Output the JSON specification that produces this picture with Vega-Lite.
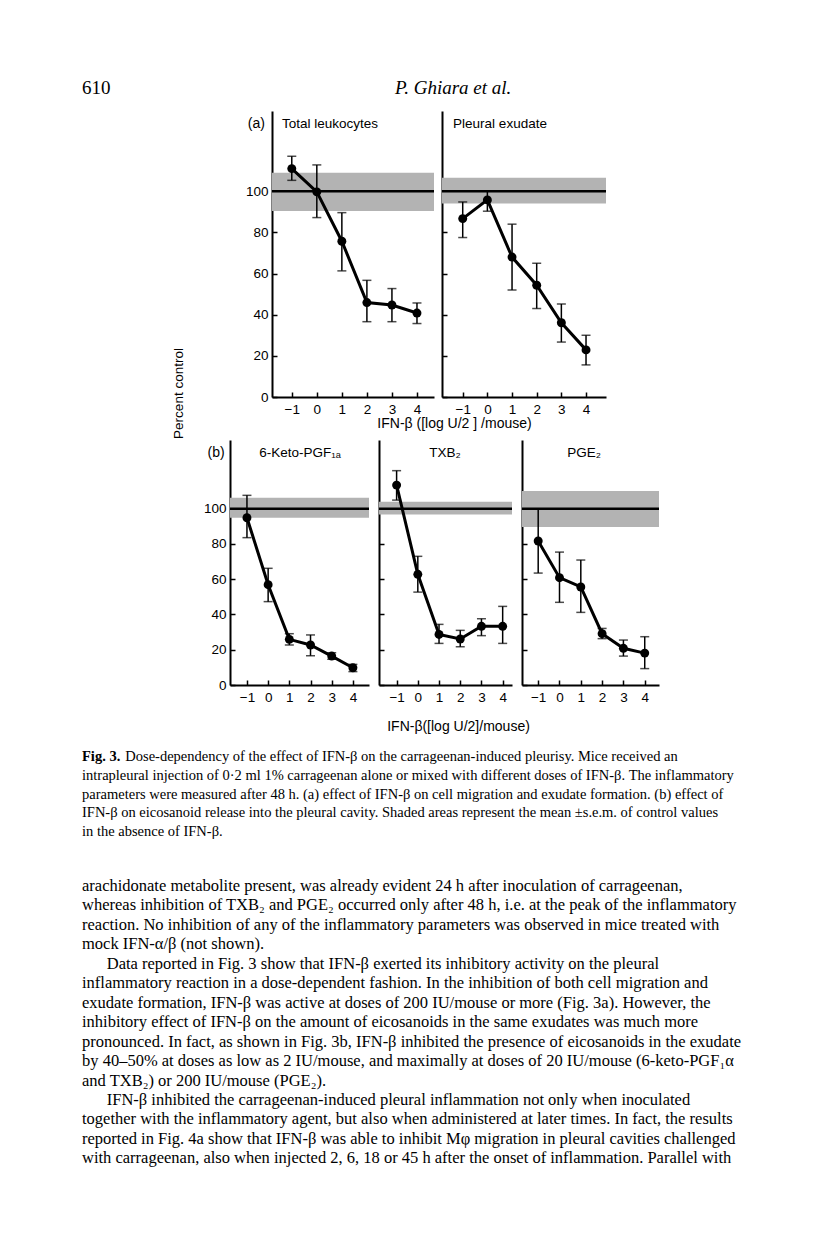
{
  "$schema": "https://vega.github.io/schema/vega-lite/v6.json",
  "padding": {"left": 82, "top": 64, "right": 0, "bottom": 0},
  "background": "white",
  "config": {
    "view": {"stroke": null},
    "font": "Liberation Sans",
    "axis": {
      "domainColor": "black", "domainWidth": 2, "tickColor": "black", "tickWidth": 1.5, "tickSize": -5,
      "labelFont": "Liberation Sans", "labelFontSize": 13.5, "labelColor": "black", "grid": false,
      "titleFont": "Liberation Sans", "titleFontSize": 14, "titleFontWeight": "normal", "titleColor": "black",
      "labelFlush": false, "labelOverlap": false, "labelSeparation": 0
    }
  },
  "datasets": {
    "points": [
      {"panel": "Total leukocytes", "dose": -1, "mean": 111, "lo": 105.3, "hi": 117},
      {"panel": "Total leukocytes", "dose": 0, "mean": 99.7, "lo": 87.2, "hi": 112.8},
      {"panel": "Total leukocytes", "dose": 1, "mean": 75.7, "lo": 61.3, "hi": 89.6},
      {"panel": "Total leukocytes", "dose": 2, "mean": 45.9, "lo": 36.6, "hi": 56.7},
      {"panel": "Total leukocytes", "dose": 3, "mean": 44.7, "lo": 36.6, "hi": 52.7},
      {"panel": "Total leukocytes", "dose": 4, "mean": 40.8, "lo": 35.7, "hi": 45.7},
      {"panel": "Pleural exudate", "dose": -1, "mean": 86.7, "lo": 77.5, "hi": 94.8},
      {"panel": "Pleural exudate", "dose": 0, "mean": 95.8, "lo": 90.3, "hi": 100.2},
      {"panel": "Pleural exudate", "dose": 1, "mean": 68, "lo": 52, "hi": 84},
      {"panel": "Pleural exudate", "dose": 2, "mean": 54.3, "lo": 43, "hi": 65},
      {"panel": "Pleural exudate", "dose": 3, "mean": 36.1, "lo": 26.7, "hi": 45.2},
      {"panel": "Pleural exudate", "dose": 4, "mean": 22.9, "lo": 15.6, "hi": 30},
      {"panel": "6-Keto-PGF1a", "dose": -1, "mean": 94.9, "lo": 83.6, "hi": 107.6},
      {"panel": "6-Keto-PGF1a", "dose": 0, "mean": 56.9, "lo": 47.3, "hi": 66.2},
      {"panel": "6-Keto-PGF1a", "dose": 1, "mean": 25.9, "lo": 22.7, "hi": 29.1},
      {"panel": "6-Keto-PGF1a", "dose": 2, "mean": 22.7, "lo": 16.6, "hi": 28.4},
      {"panel": "6-Keto-PGF1a", "dose": 3, "mean": 16.4, "lo": 14.6, "hi": 18.3},
      {"panel": "6-Keto-PGF1a", "dose": 4, "mean": 9.8, "lo": 7.6, "hi": 11.7},
      {"panel": "TXB2", "dose": -1, "mean": 113.4, "lo": 104.9, "hi": 121.6},
      {"panel": "TXB2", "dose": 0, "mean": 62.8, "lo": 52.7, "hi": 73},
      {"panel": "TXB2", "dose": 1, "mean": 28.7, "lo": 23.6, "hi": 34.4},
      {"panel": "TXB2", "dose": 2, "mean": 26.1, "lo": 21.7, "hi": 31},
      {"panel": "TXB2", "dose": 3, "mean": 33.3, "lo": 28, "hi": 37.6},
      {"panel": "TXB2", "dose": 4, "mean": 33.3, "lo": 23.6, "hi": 44.6},
      {"panel": "PGE2", "dose": -1, "mean": 81.7, "lo": 63.5, "hi": 100},
      {"panel": "PGE2", "dose": 0, "mean": 60.9, "lo": 46.9, "hi": 75.4},
      {"panel": "PGE2", "dose": 1, "mean": 55.6, "lo": 41.2, "hi": 70.9},
      {"panel": "PGE2", "dose": 2, "mean": 29.1, "lo": 26.3, "hi": 32.1},
      {"panel": "PGE2", "dose": 3, "mean": 20.8, "lo": 16.4, "hi": 25.5},
      {"panel": "PGE2", "dose": 4, "mean": 18.1, "lo": 9.3, "hi": 27.4}
    ],
    "bands": [
      {"panel": "Total leukocytes", "lo": 90.4, "hi": 109, "mean": 100},
      {"panel": "Pleural exudate", "lo": 94, "hi": 106.5, "mean": 100},
      {"panel": "6-Keto-PGF1a", "lo": 94.9, "hi": 106.2, "mean": 100},
      {"panel": "TXB2", "lo": 96.8, "hi": 104, "mean": 100},
      {"panel": "PGE2", "lo": 89.6, "hi": 110, "mean": 100}
    ],
    "caption": [
      {"line": 0, "text": "Dose-dependency of the effect of IFN-β on the carrageenan-induced pleurisy. Mice received an"},
      {"line": 1, "text": "intrapleural injection of 0·2 ml 1% carrageenan alone or mixed with different doses of IFN-β. The inflammatory"},
      {"line": 2, "text": "parameters were measured after 48 h. (a) effect of IFN-β on cell migration and exudate formation. (b) effect of"},
      {"line": 3, "text": "IFN-β on eicosanoid release into the pleural cavity. Shaded areas represent the mean ±s.e.m. of control values"},
      {"line": 4, "text": "in the absence of IFN-β."}
    ],
    "body": [
      {"line": 0, "text": "arachidonate metabolite present, was already evident 24 h after inoculation of carrageenan,"},
      {"line": 1, "text": "whereas inhibition of TXB₂ and PGE₂ occurred only after 48 h, i.e. at the peak of the inflammatory"},
      {"line": 2, "text": "reaction. No inhibition of any of the inflammatory parameters was observed in mice treated with"},
      {"line": 3, "text": "mock IFN-α/β (not shown)."},
      {"line": 4, "text": "\u200b\u2003\u2002Data reported in Fig. 3 show that IFN-β exerted its inhibitory activity on the pleural"},
      {"line": 5, "text": "inflammatory reaction in a dose-dependent fashion. In the inhibition of both cell migration and"},
      {"line": 6, "text": "exudate formation, IFN-β was active at doses of 200 IU/mouse or more (Fig. 3a). However, the"},
      {"line": 7, "text": "inhibitory effect of IFN-β on the amount of eicosanoids in the same exudates was much more"},
      {"line": 8, "text": "pronounced. In fact, as shown in Fig. 3b, IFN-β inhibited the presence of eicosanoids in the exudate"},
      {"line": 9, "text": "by 40–50% at doses as low as 2 IU/mouse, and maximally at doses of 20 IU/mouse (6-keto-PGF₁α"},
      {"line": 10, "text": "and TXB₂) or 200 IU/mouse (PGE₂)."},
      {"line": 11, "text": "\u200b\u2003\u2002IFN-β inhibited the carrageenan-induced pleural inflammation not only when inoculated"},
      {"line": 12, "text": "together with the inflammatory agent, but also when administered at later times. In fact, the results"},
      {"line": 13, "text": "reported in Fig. 4a show that IFN-β was able to inhibit Mφ migration in pleural cavities challenged"},
      {"line": 14, "text": "with carrageenan, also when injected 2, 6, 18 or 45 h after the onset of inflammation. Parallel with"}
    ]
  },
  "vconcat": [
    {
      "width": 666, "height": 47,
      "layer": [
        {"data": {"values": [{"t": "610"}]},
         "mark": {"type": "text", "align": "left", "baseline": "middle", "font": "Liberation Serif", "fontSize": 19, "color": "black"},
         "encoding": {"x": {"datum": 0, "type": "quantitative", "scale": {"domain": [0, 1], "nice": false}, "axis": null}, "text": {"field": "t"}}},
        {"data": {"values": [{"t": "P. Ghiara et al."}]},
         "mark": {"type": "text", "align": "left", "baseline": "middle", "font": "Liberation Serif", "fontSize": 19, "fontStyle": "italic", "color": "black"},
         "encoding": {"x": {"datum": 0.47, "type": "quantitative", "scale": {"domain": [0, 1], "nice": false}, "axis": null}, "text": {"field": "t"}}}
      ]
    },
    {
      "hconcat": [
        {"width": 182, "height": 329, "data": {"values": [{"t": ""}]}, "mark": {"type": "text"}, "encoding": {"text": {"field": "t"}}},
        {
          "width": 162, "height": 286,
          "layer": [
            {"data": {"name": "bands"}, "transform": [{"filter": "datum.panel === 'Total leukocytes'"}],
             "mark": {"type": "rect", "color": "#b3b3b3"},
             "encoding": {"y": {"field": "lo", "type": "quantitative", "scale": {"domain": [0, 139], "nice": false, "zero": false},
                                "axis": {"values": [0, 20, 40, 60, 80, 100], "labelPadding": 9, "labelOverlap": false, "title": "Percent control", "titleX": -94, "titleY": 282, "titleAngle": 270, "titleAlign": "center", "titleBaseline": "middle", "titleFontSize": 13.5}},
                          "y2": {"field": "hi"}}},
            {"data": {"name": "bands"}, "transform": [{"filter": "datum.panel === 'Total leukocytes'"}],
             "mark": {"type": "rule", "color": "black", "strokeWidth": 2.5},
             "encoding": {"y": {"field": "mean", "type": "quantitative", "scale": {"domain": [0, 139], "nice": false, "zero": false},
                                "axis": {"values": [0, 20, 40, 60, 80, 100], "labelPadding": 9, "labelOverlap": false, "title": "Percent control", "titleX": -94, "titleY": 282, "titleAngle": 270, "titleAlign": "center", "titleBaseline": "middle", "titleFontSize": 13.5}}}},
            {"data": {"name": "points"}, "transform": [{"filter": "datum.panel === 'Total leukocytes'"}],
             "layer": [
               {"mark": {"type": "rule", "color": "black", "strokeWidth": 1.5},
                "encoding": {"y": {"field": "lo", "type": "quantitative", "scale": {"domain": [0, 139], "nice": false, "zero": false},
                                   "axis": {"values": [0, 20, 40, 60, 80, 100], "labelPadding": 9, "labelOverlap": false, "title": "Percent control", "titleX": -94, "titleY": 282, "titleAngle": 270, "titleAlign": "center", "titleBaseline": "middle", "titleFontSize": 13.5}},
                             "y2": {"field": "hi"}}},
               {"mark": {"type": "tick", "orient": "horizontal", "color": "black", "size": 9, "thickness": 1.5},
                "encoding": {"y": {"field": "lo", "type": "quantitative", "scale": {"domain": [0, 139], "nice": false, "zero": false},
                                   "axis": {"values": [0, 20, 40, 60, 80, 100], "labelPadding": 9, "labelOverlap": false, "title": "Percent control", "titleX": -94, "titleY": 282, "titleAngle": 270, "titleAlign": "center", "titleBaseline": "middle", "titleFontSize": 13.5}}}},
               {"mark": {"type": "tick", "orient": "horizontal", "color": "black", "size": 9, "thickness": 1.5},
                "encoding": {"y": {"field": "hi", "type": "quantitative", "scale": {"domain": [0, 139], "nice": false, "zero": false},
                                   "axis": {"values": [0, 20, 40, 60, 80, 100], "labelPadding": 9, "labelOverlap": false, "title": "Percent control", "titleX": -94, "titleY": 282, "titleAngle": 270, "titleAlign": "center", "titleBaseline": "middle", "titleFontSize": 13.5}}}},
               {"mark": {"type": "line", "color": "black", "strokeWidth": 3},
                "encoding": {"y": {"field": "mean", "type": "quantitative", "scale": {"domain": [0, 139], "nice": false, "zero": false},
                                   "axis": {"values": [0, 20, 40, 60, 80, 100], "labelPadding": 9, "labelOverlap": false, "title": "Percent control", "titleX": -94, "titleY": 282, "titleAngle": 270, "titleAlign": "center", "titleBaseline": "middle", "titleFontSize": 13.5}}}},
               {"mark": {"type": "point", "filled": true, "color": "black", "size": 80, "opacity": 1},
                "encoding": {"y": {"field": "mean", "type": "quantitative", "scale": {"domain": [0, 139], "nice": false, "zero": false},
                                   "axis": {"values": [0, 20, 40, 60, 80, 100], "labelPadding": 9, "labelOverlap": false, "title": "Percent control", "titleX": -94, "titleY": 282, "titleAngle": 270, "titleAlign": "center", "titleBaseline": "middle", "titleFontSize": 13.5}}}}
             ],
             "encoding": {"x": {"field": "dose", "type": "quantitative", "scale": {"domain": [-1.79, 4.68], "nice": false, "zero": false},
                                "axis": {"values": [-1, 0, 1, 2, 3, 4], "format": "d", "labelPadding": 10, "labelOverlap": false, "title": null}}}},
            {"data": {"values": [{"label": "(a)", "title": "Total leukocytes"}]},
             "layer": [
               {"mark": {"type": "text", "align": "right", "baseline": "middle", "font": "Liberation Sans", "fontSize": 14, "color": "black"},
                "encoding": {"x": {"datum": -2.07, "type": "quantitative", "scale": {"domain": [-1.79, 4.68], "nice": false, "zero": false},
                                   "axis": {"values": [-1, 0, 1, 2, 3, 4], "format": "d", "labelPadding": 10, "labelOverlap": false, "title": null}},
                             "text": {"field": "label"}}},
               {"mark": {"type": "text", "align": "left", "baseline": "middle", "font": "Liberation Sans", "fontSize": 13.5, "color": "black"},
                "encoding": {"x": {"datum": -1.39, "type": "quantitative", "scale": {"domain": [-1.79, 4.68], "nice": false, "zero": false},
                                   "axis": {"values": [-1, 0, 1, 2, 3, 4], "format": "d", "labelPadding": 10, "labelOverlap": false, "title": null}},
                             "text": {"field": "title"}}}
             ],
             "encoding": {"y": {"datum": 132.5, "type": "quantitative", "scale": {"domain": [0, 139], "nice": false, "zero": false},
                                "axis": {"values": [0, 20, 40, 60, 80, 100], "labelPadding": 9, "labelOverlap": false, "title": "Percent control", "titleX": -94, "titleY": 282, "titleAngle": 270, "titleAlign": "center", "titleBaseline": "middle", "titleFontSize": 13.5}}}}
          ]
        },
        {
          "width": 164, "height": 286,
          "layer": [
            {"data": {"name": "bands"}, "transform": [{"filter": "datum.panel === 'Pleural exudate'"}],
             "mark": {"type": "rect", "color": "#b3b3b3"},
             "encoding": {"y": {"field": "lo", "type": "quantitative", "scale": {"domain": [0, 139], "nice": false, "zero": false}, "axis": {"values": [0, 20, 40, 60, 80, 100], "labels": false, "title": null}}, "y2": {"field": "hi"}}},
            {"data": {"name": "bands"}, "transform": [{"filter": "datum.panel === 'Pleural exudate'"}],
             "mark": {"type": "rule", "color": "black", "strokeWidth": 2.5},
             "encoding": {"y": {"field": "mean", "type": "quantitative", "scale": {"domain": [0, 139], "nice": false, "zero": false}, "axis": {"values": [0, 20, 40, 60, 80, 100], "labels": false, "title": null}}}},
            {"data": {"name": "points"}, "transform": [{"filter": "datum.panel === 'Pleural exudate'"}],
             "layer": [
               {"mark": {"type": "rule", "color": "black", "strokeWidth": 1.5},
                "encoding": {"y": {"field": "lo", "type": "quantitative", "scale": {"domain": [0, 139], "nice": false, "zero": false}, "axis": {"values": [0, 20, 40, 60, 80, 100], "labels": false, "title": null}}, "y2": {"field": "hi"}}},
               {"mark": {"type": "tick", "orient": "horizontal", "color": "black", "size": 9, "thickness": 1.5},
                "encoding": {"y": {"field": "lo", "type": "quantitative", "scale": {"domain": [0, 139], "nice": false, "zero": false}, "axis": {"values": [0, 20, 40, 60, 80, 100], "labels": false, "title": null}}}},
               {"mark": {"type": "tick", "orient": "horizontal", "color": "black", "size": 9, "thickness": 1.5},
                "encoding": {"y": {"field": "hi", "type": "quantitative", "scale": {"domain": [0, 139], "nice": false, "zero": false}, "axis": {"values": [0, 20, 40, 60, 80, 100], "labels": false, "title": null}}}},
               {"mark": {"type": "line", "color": "black", "strokeWidth": 3},
                "encoding": {"y": {"field": "mean", "type": "quantitative", "scale": {"domain": [0, 139], "nice": false, "zero": false}, "axis": {"values": [0, 20, 40, 60, 80, 100], "labels": false, "title": null}}}},
               {"mark": {"type": "point", "filled": true, "color": "black", "size": 80, "opacity": 1},
                "encoding": {"y": {"field": "mean", "type": "quantitative", "scale": {"domain": [0, 139], "nice": false, "zero": false}, "axis": {"values": [0, 20, 40, 60, 80, 100], "labels": false, "title": null}}}}
             ],
             "encoding": {"x": {"field": "dose", "type": "quantitative", "scale": {"domain": [-1.84, 4.81], "nice": false, "zero": false},
                                "axis": {"values": [-1, 0, 1, 2, 3, 4], "format": "d", "labelPadding": 10, "labelOverlap": false, "title": "IFN-β ([log U/2 ] /mouse)", "titleX": 12, "titleY": 26, "titleAlign": "center", "titleBaseline": "middle"}}}},
            {"data": {"values": [{"title": "Pleural exudate"}]},
             "mark": {"type": "text", "align": "left", "baseline": "middle", "font": "Liberation Sans", "fontSize": 13.5, "color": "black"},
             "encoding": {"x": {"datum": -1.39, "type": "quantitative", "scale": {"domain": [-1.84, 4.81], "nice": false, "zero": false},
                                "axis": {"values": [-1, 0, 1, 2, 3, 4], "format": "d", "labelPadding": 10, "labelOverlap": false, "title": "IFN-β ([log U/2 ] /mouse)", "titleX": 12, "titleY": 26, "titleAlign": "center", "titleBaseline": "middle"}},
                          "y": {"datum": 132.5, "type": "quantitative", "scale": {"domain": [0, 139], "nice": false, "zero": false}, "axis": {"values": [0, 20, 40, 60, 80, 100], "labels": false, "title": null}},
                          "text": {"field": "title"}}}
          ]
        }
      ],
      "spacing": 8,
      "bounds": "flush"
    },
    {
      "hconcat": [
        {"width": 138, "height": 303, "data": {"values": [{"t": ""}]}, "mark": {"type": "text"}, "encoding": {"text": {"field": "t"}}},
        {
          "width": 139, "height": 245,
          "layer": [
            {"data": {"name": "bands"}, "transform": [{"filter": "datum.panel === '6-Keto-PGF1a'"}],
             "mark": {"type": "rect", "color": "#b3b3b3"},
             "encoding": {"y": {"field": "lo", "type": "quantitative", "scale": {"domain": [0, 139], "nice": false, "zero": false}, "axis": {"values": [0, 20, 40, 60, 80, 100], "labelPadding": 9, "labelOverlap": false, "title": null}}, "y2": {"field": "hi"}}},
            {"data": {"name": "bands"}, "transform": [{"filter": "datum.panel === '6-Keto-PGF1a'"}],
             "mark": {"type": "rule", "color": "black", "strokeWidth": 2.5},
             "encoding": {"y": {"field": "mean", "type": "quantitative", "scale": {"domain": [0, 139], "nice": false, "zero": false}, "axis": {"values": [0, 20, 40, 60, 80, 100], "labelPadding": 9, "labelOverlap": false, "title": null}}}},
            {"data": {"name": "points"}, "transform": [{"filter": "datum.panel === '6-Keto-PGF1a'"}],
             "layer": [
               {"mark": {"type": "rule", "color": "black", "strokeWidth": 1.5},
                "encoding": {"y": {"field": "lo", "type": "quantitative", "scale": {"domain": [0, 139], "nice": false, "zero": false}, "axis": {"values": [0, 20, 40, 60, 80, 100], "labelPadding": 9, "labelOverlap": false, "title": null}}, "y2": {"field": "hi"}}},
               {"mark": {"type": "tick", "orient": "horizontal", "color": "black", "size": 9, "thickness": 1.5},
                "encoding": {"y": {"field": "lo", "type": "quantitative", "scale": {"domain": [0, 139], "nice": false, "zero": false}, "axis": {"values": [0, 20, 40, 60, 80, 100], "labelPadding": 9, "labelOverlap": false, "title": null}}}},
               {"mark": {"type": "tick", "orient": "horizontal", "color": "black", "size": 9, "thickness": 1.5},
                "encoding": {"y": {"field": "hi", "type": "quantitative", "scale": {"domain": [0, 139], "nice": false, "zero": false}, "axis": {"values": [0, 20, 40, 60, 80, 100], "labelPadding": 9, "labelOverlap": false, "title": null}}}},
               {"mark": {"type": "line", "color": "black", "strokeWidth": 3},
                "encoding": {"y": {"field": "mean", "type": "quantitative", "scale": {"domain": [0, 139], "nice": false, "zero": false}, "axis": {"values": [0, 20, 40, 60, 80, 100], "labelPadding": 9, "labelOverlap": false, "title": null}}}},
               {"mark": {"type": "point", "filled": true, "color": "black", "size": 80, "opacity": 1},
                "encoding": {"y": {"field": "mean", "type": "quantitative", "scale": {"domain": [0, 139], "nice": false, "zero": false}, "axis": {"values": [0, 20, 40, 60, 80, 100], "labelPadding": 9, "labelOverlap": false, "title": null}}}}
             ],
             "encoding": {"x": {"field": "dose", "type": "quantitative", "scale": {"domain": [-1.8, 4.76], "nice": false, "zero": false},
                                "axis": {"values": [-1, 0, 1, 2, 3, 4], "format": "d", "labelPadding": 10, "labelOverlap": false, "title": null}}}},
            {"data": {"values": [{"label": "(b)", "title": "6-Keto-PGF₁ₐ"}]},
             "layer": [
               {"mark": {"type": "text", "align": "right", "baseline": "middle", "font": "Liberation Sans", "fontSize": 14, "color": "black"},
                "encoding": {"x": {"datum": -2.05, "type": "quantitative", "scale": {"domain": [-1.8, 4.76], "nice": false, "zero": false},
                                   "axis": {"values": [-1, 0, 1, 2, 3, 4], "format": "d", "labelPadding": 10, "labelOverlap": false, "title": null}},
                             "text": {"field": "label"}}},
               {"mark": {"type": "text", "align": "center", "baseline": "middle", "font": "Liberation Sans", "fontSize": 13.5, "color": "black"},
                "encoding": {"x": {"datum": 1.5, "type": "quantitative", "scale": {"domain": [-1.8, 4.76], "nice": false, "zero": false},
                                   "axis": {"values": [-1, 0, 1, 2, 3, 4], "format": "d", "labelPadding": 10, "labelOverlap": false, "title": null}},
                             "text": {"field": "title"}}}
             ],
             "encoding": {"y": {"datum": 131.8, "type": "quantitative", "scale": {"domain": [0, 139], "nice": false, "zero": false}, "axis": {"values": [0, 20, 40, 60, 80, 100], "labelPadding": 9, "labelOverlap": false, "title": null}}}}
          ]
        },
        {
          "width": 133, "height": 245,
          "layer": [
            {"data": {"name": "bands"}, "transform": [{"filter": "datum.panel === 'TXB2'"}],
             "mark": {"type": "rect", "color": "#b3b3b3"},
             "encoding": {"y": {"field": "lo", "type": "quantitative", "scale": {"domain": [0, 139], "nice": false, "zero": false}, "axis": {"values": [0, 20, 40, 60, 80, 100], "labels": false, "title": null}}, "y2": {"field": "hi"}}},
            {"data": {"name": "bands"}, "transform": [{"filter": "datum.panel === 'TXB2'"}],
             "mark": {"type": "rule", "color": "black", "strokeWidth": 2.5},
             "encoding": {"y": {"field": "mean", "type": "quantitative", "scale": {"domain": [0, 139], "nice": false, "zero": false}, "axis": {"values": [0, 20, 40, 60, 80, 100], "labels": false, "title": null}}}},
            {"data": {"name": "points"}, "transform": [{"filter": "datum.panel === 'TXB2'"}],
             "layer": [
               {"mark": {"type": "rule", "color": "black", "strokeWidth": 1.5},
                "encoding": {"y": {"field": "lo", "type": "quantitative", "scale": {"domain": [0, 139], "nice": false, "zero": false}, "axis": {"values": [0, 20, 40, 60, 80, 100], "labels": false, "title": null}}, "y2": {"field": "hi"}}},
               {"mark": {"type": "tick", "orient": "horizontal", "color": "black", "size": 9, "thickness": 1.5},
                "encoding": {"y": {"field": "lo", "type": "quantitative", "scale": {"domain": [0, 139], "nice": false, "zero": false}, "axis": {"values": [0, 20, 40, 60, 80, 100], "labels": false, "title": null}}}},
               {"mark": {"type": "tick", "orient": "horizontal", "color": "black", "size": 9, "thickness": 1.5},
                "encoding": {"y": {"field": "hi", "type": "quantitative", "scale": {"domain": [0, 139], "nice": false, "zero": false}, "axis": {"values": [0, 20, 40, 60, 80, 100], "labels": false, "title": null}}}},
               {"mark": {"type": "line", "color": "black", "strokeWidth": 3},
                "encoding": {"y": {"field": "mean", "type": "quantitative", "scale": {"domain": [0, 139], "nice": false, "zero": false}, "axis": {"values": [0, 20, 40, 60, 80, 100], "labels": false, "title": null}}}},
               {"mark": {"type": "point", "filled": true, "color": "black", "size": 80, "opacity": 1},
                "encoding": {"y": {"field": "mean", "type": "quantitative", "scale": {"domain": [0, 139], "nice": false, "zero": false}, "axis": {"values": [0, 20, 40, 60, 80, 100], "labels": false, "title": null}}}}
             ],
             "encoding": {"x": {"field": "dose", "type": "quantitative", "scale": {"domain": [-1.83, 4.44], "nice": false, "zero": false},
                                "axis": {"values": [-1, 0, 1, 2, 3, 4], "format": "d", "labelPadding": 10, "labelOverlap": false, "title": "IFN-β([log U/2]/mouse)", "titleX": 79, "titleY": 41, "titleAlign": "center", "titleBaseline": "middle"}}}},
            {"data": {"values": [{"title": "TXB₂"}]},
             "mark": {"type": "text", "align": "center", "baseline": "middle", "font": "Liberation Sans", "fontSize": 13.5, "color": "black"},
             "encoding": {"x": {"datum": 1.28, "type": "quantitative", "scale": {"domain": [-1.83, 4.44], "nice": false, "zero": false},
                                "axis": {"values": [-1, 0, 1, 2, 3, 4], "format": "d", "labelPadding": 10, "labelOverlap": false, "title": "IFN-β([log U/2]/mouse)", "titleX": 79, "titleY": 41, "titleAlign": "center", "titleBaseline": "middle"}},
                          "y": {"datum": 131.8, "type": "quantitative", "scale": {"domain": [0, 139], "nice": false, "zero": false}, "axis": {"values": [0, 20, 40, 60, 80, 100], "labels": false, "title": null}},
                          "text": {"field": "title"}}}
          ]
        },
        {
          "width": 137, "height": 245,
          "layer": [
            {"data": {"name": "bands"}, "transform": [{"filter": "datum.panel === 'PGE2'"}],
             "mark": {"type": "rect", "color": "#b3b3b3"},
             "encoding": {"y": {"field": "lo", "type": "quantitative", "scale": {"domain": [0, 139], "nice": false, "zero": false}, "axis": {"values": [0, 20, 40, 60, 80, 100], "labels": false, "title": null}}, "y2": {"field": "hi"}}},
            {"data": {"name": "bands"}, "transform": [{"filter": "datum.panel === 'PGE2'"}],
             "mark": {"type": "rule", "color": "black", "strokeWidth": 2.5},
             "encoding": {"y": {"field": "mean", "type": "quantitative", "scale": {"domain": [0, 139], "nice": false, "zero": false}, "axis": {"values": [0, 20, 40, 60, 80, 100], "labels": false, "title": null}}}},
            {"data": {"name": "points"}, "transform": [{"filter": "datum.panel === 'PGE2'"}],
             "layer": [
               {"mark": {"type": "rule", "color": "black", "strokeWidth": 1.5},
                "encoding": {"y": {"field": "lo", "type": "quantitative", "scale": {"domain": [0, 139], "nice": false, "zero": false}, "axis": {"values": [0, 20, 40, 60, 80, 100], "labels": false, "title": null}}, "y2": {"field": "hi"}}},
               {"mark": {"type": "tick", "orient": "horizontal", "color": "black", "size": 9, "thickness": 1.5},
                "encoding": {"y": {"field": "lo", "type": "quantitative", "scale": {"domain": [0, 139], "nice": false, "zero": false}, "axis": {"values": [0, 20, 40, 60, 80, 100], "labels": false, "title": null}}}},
               {"mark": {"type": "tick", "orient": "horizontal", "color": "black", "size": 9, "thickness": 1.5},
                "encoding": {"y": {"field": "hi", "type": "quantitative", "scale": {"domain": [0, 139], "nice": false, "zero": false}, "axis": {"values": [0, 20, 40, 60, 80, 100], "labels": false, "title": null}}}},
               {"mark": {"type": "line", "color": "black", "strokeWidth": 3},
                "encoding": {"y": {"field": "mean", "type": "quantitative", "scale": {"domain": [0, 139], "nice": false, "zero": false}, "axis": {"values": [0, 20, 40, 60, 80, 100], "labels": false, "title": null}}}},
               {"mark": {"type": "point", "filled": true, "color": "black", "size": 80, "opacity": 1},
                "encoding": {"y": {"field": "mean", "type": "quantitative", "scale": {"domain": [0, 139], "nice": false, "zero": false}, "axis": {"values": [0, 20, 40, 60, 80, 100], "labels": false, "title": null}}}}
             ],
             "encoding": {"x": {"field": "dose", "type": "quantitative", "scale": {"domain": [-1.76, 4.67], "nice": false, "zero": false},
                                "axis": {"values": [-1, 0, 1, 2, 3, 4], "format": "d", "labelPadding": 10, "labelOverlap": false, "title": null}}}},
            {"data": {"values": [{"title": "PGE₂"}]},
             "mark": {"type": "text", "align": "center", "baseline": "middle", "font": "Liberation Sans", "fontSize": 13.5, "color": "black"},
             "encoding": {"x": {"datum": 1.16, "type": "quantitative", "scale": {"domain": [-1.76, 4.67], "nice": false, "zero": false},
                                "axis": {"values": [-1, 0, 1, 2, 3, 4], "format": "d", "labelPadding": 10, "labelOverlap": false, "title": null}},
                          "y": {"datum": 131.8, "type": "quantitative", "scale": {"domain": [0, 139], "nice": false, "zero": false}, "axis": {"values": [0, 20, 40, 60, 80, 100], "labels": false, "title": null}},
                          "text": {"field": "title"}}}
          ]
        }
      ],
      "spacing": 10,
      "bounds": "flush"
    },
    {
      "width": 666, "height": 100,
      "layer": [
        {"data": {"name": "caption"}, "transform": [{"filter": "datum.line > 0"}],
         "mark": {"type": "text", "align": "left", "baseline": "middle", "font": "Liberation Serif", "fontSize": 14.5, "color": "black"},
         "encoding": {"x": {"datum": 0, "type": "quantitative", "scale": {"domain": [0, 1], "nice": false}, "axis": null},
                      "y": {"field": "line", "type": "quantitative", "scale": {"domain": [-0.7467, 4.5867], "reverse": true, "nice": false, "zero": false}, "axis": null},
                      "text": {"field": "text"}}},
        {"data": {"values": [{"line": 0, "text": "Fig. 3."}]},
         "mark": {"type": "text", "align": "left", "baseline": "middle", "font": "Liberation Serif", "fontSize": 14.5, "fontWeight": "bold", "color": "black"},
         "encoding": {"x": {"datum": 0, "type": "quantitative", "scale": {"domain": [0, 1], "nice": false}, "axis": null},
                      "y": {"field": "line", "type": "quantitative", "scale": {"domain": [-0.7467, 4.5867], "reverse": true, "nice": false, "zero": false}, "axis": null},
                      "text": {"field": "text"}}},
        {"data": {"name": "caption"}, "transform": [{"filter": "datum.line === 0"}],
         "mark": {"type": "text", "align": "left", "baseline": "middle", "font": "Liberation Serif", "fontSize": 14.5, "color": "black"},
         "encoding": {"x": {"datum": 0.065, "type": "quantitative", "scale": {"domain": [0, 1], "nice": false}, "axis": null},
                      "y": {"field": "line", "type": "quantitative", "scale": {"domain": [-0.7467, 4.5867], "reverse": true, "nice": false, "zero": false}, "axis": null},
                      "text": {"field": "text"}}}
      ]
    },
    {
      "width": 666, "height": 320,
      "data": {"name": "body"},
      "mark": {"type": "text", "align": "left", "baseline": "middle", "font": "Liberation Serif", "fontSize": 16.5, "color": "black"},
      "encoding": {"x": {"datum": 0, "type": "quantitative", "scale": {"domain": [0, 1], "nice": false}, "axis": null},
                   "y": {"field": "line", "type": "quantitative", "scale": {"domain": [-2.2108, 14.2416], "reverse": true, "nice": false, "zero": false}, "axis": null},
                   "text": {"field": "text"}}
    }
  ],
  "spacing": 0,
  "bounds": "full"
}
